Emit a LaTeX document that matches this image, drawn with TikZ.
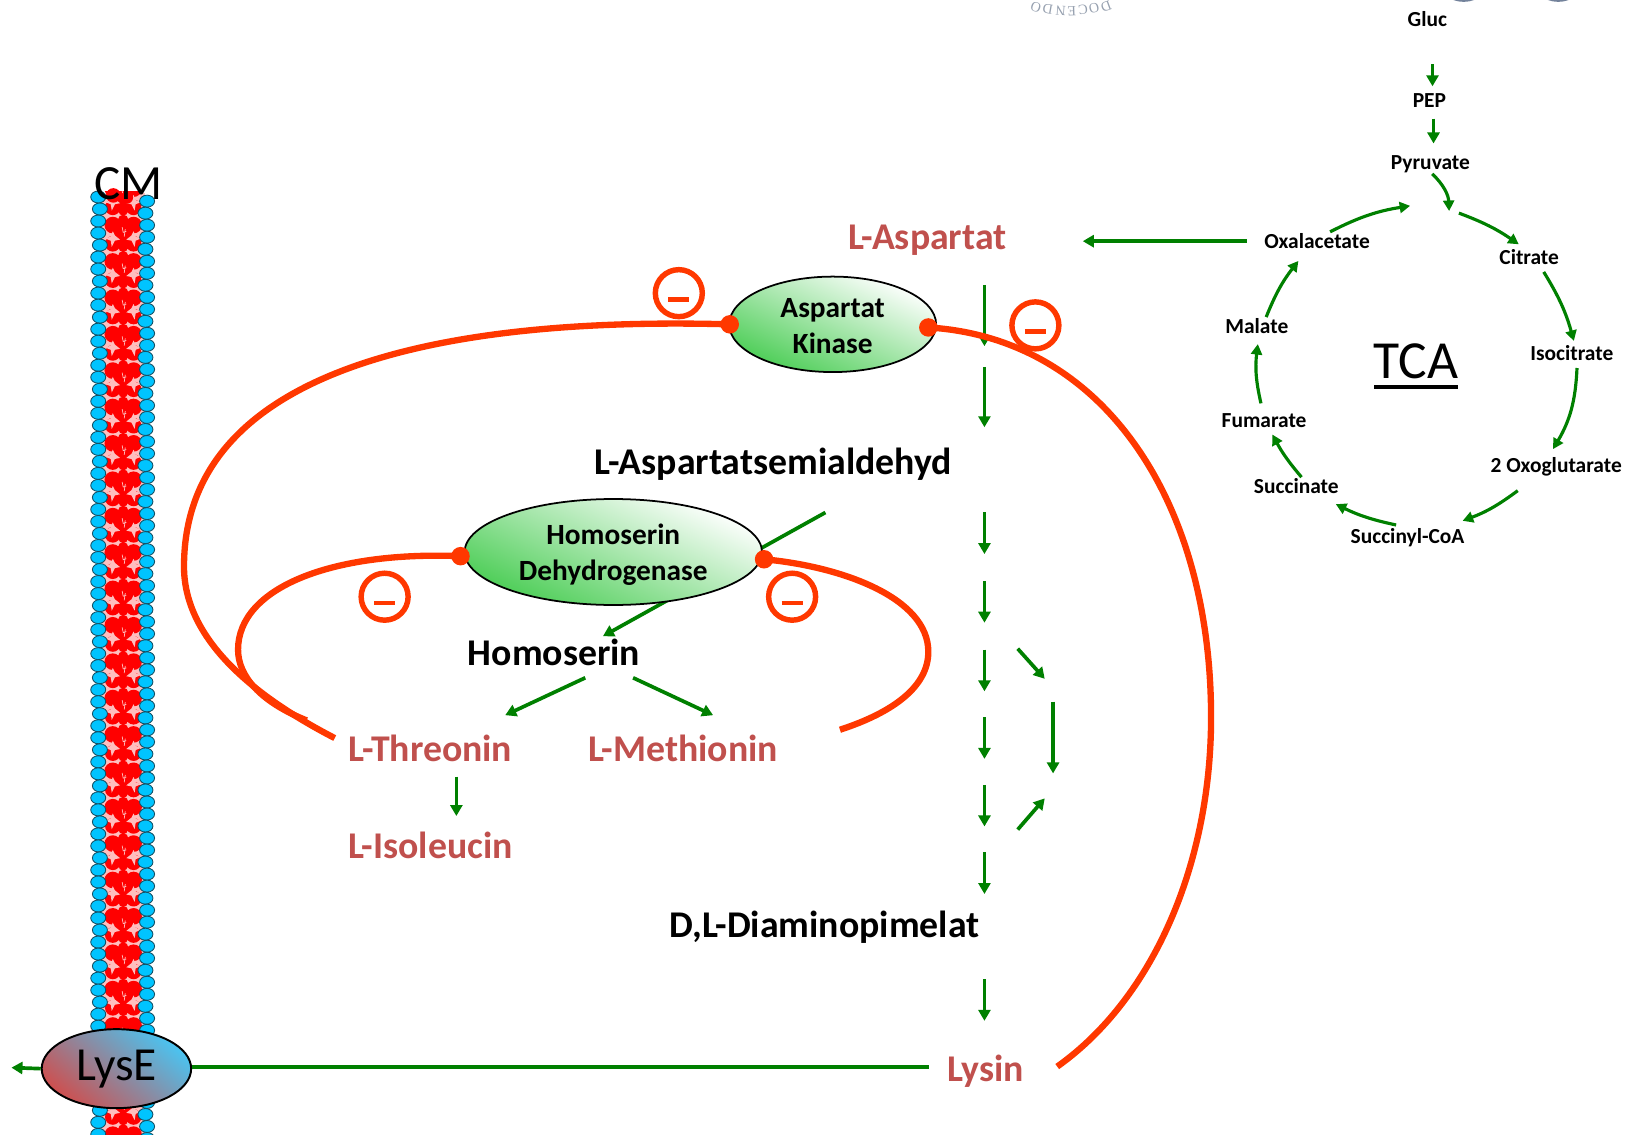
\documentclass[tikz,border=0pt]{standalone}
\usepackage{fontspec}
\setmainfont{Carlito}
\newfontfamily\sealfont{Liberation Serif}
\usetikzlibrary{arrows.meta,shapes.geometric}
\definecolor{flow}{RGB}{0,128,0}
\definecolor{inhib}{RGB}{255,56,0}
\definecolor{amino}{RGB}{192,80,77}
\definecolor{bead}{RGB}{0,196,255}
\definecolor{beadline}{RGB}{20,80,100}
\definecolor{pinkbg}{RGB}{255,190,190}
\definecolor{sealgray}{RGB}{150,160,175}
\definecolor{sealdark}{RGB}{115,130,155}
\definecolor{enz}{RGB}{75,205,85}
\definecolor{lysblue}{RGB}{75,195,240}
\definecolor{lysred}{RGB}{205,80,80}
\tikzset{
  flowarrow/.style={draw=flow,line width=2.1pt,-{Triangle[length=0.22cm,width=0.24cm]}},
  smallarrow/.style={draw=flow,line width=1.8pt,-{Triangle[length=0.21cm,width=0.22cm]}},
  inhibline/.style={draw=inhib,line width=3.6pt},
  inhibdot/.style={circle,fill=inhib,inner sep=0pt,minimum size=0.37cm},
  minusring/.style={circle,draw=inhib,line width=3.1pt,inner sep=0pt,minimum size=0.94cm},
  minusbar/.style={draw=inhib,line width=2.6pt},
  tcatext/.style={inner sep=0pt,font=\bfseries\fontsize{12.2}{14}\selectfont},
  metabolite/.style={inner sep=0pt,font=\bfseries\fontsize{21.5}{25}\selectfont},
  product/.style={metabolite,text=amino},
  enzyme/.style={ellipse,draw=black,line width=1pt,inner sep=0pt,align=center,top color=white,bottom color=enz,shading angle=-25,font=\bfseries\fontsize{16.7}{20.5}\selectfont},
  lipid/.style={ellipse,draw=beadline,line width=0.5pt,fill=bead,inner sep=0pt,minimum width=0.3cm,minimum height=0.24cm},
  sealletter/.style={inner sep=0pt,text=sealgray,font=\sealfont\fontsize{8}{9}\selectfont}
}
\newcommand{\arrowS}[3]{\coordinate (#1s) at (#2); \coordinate (#1e) at (#3); \draw[flowarrow] (#1s) -- (#1e);}
\newcommand{\arrowT}[4]{\coordinate (#1s) at (#2); \coordinate (#1e) at (#3); \draw[smallarrow] (#1s) to[bend right=#4] (#1e);}
\begin{document}
\begin{tikzpicture}[x=0.020791cm,y=-0.020791cm]
\useasboundingbox (0,0) rectangle (1568,1090.9);
% seal remnants
\node[sealletter,rotate=162] (s1) at (996.5,7) {O};
\node[sealletter,rotate=170] (s2) at (1008,9) {D};
\node[sealletter,rotate=176] (s3) at (1020.5,10.5) {N};
\node[sealletter,rotate=182] (s4) at (1031,10.5) {E};
\node[sealletter,rotate=188] (s5) at (1042,9) {C};
\node[sealletter,rotate=194] (s6) at (1052.5,7.5) {O};
\node[sealletter,rotate=200] (s7) at (1064,6) {D};
\fill[sealdark] (1398,0) .. controls (1404,2.4) and (1412,2.4) .. (1418,0) -- cycle;
\fill[sealdark] (1489,0) .. controls (1495,2.4) and (1503,2.4) .. (1509,0) -- cycle;
% membrane
\fill[pinkbg] (98,186) rectangle (139.5,1091);
\begin{scope}
\clip (98,184) rectangle (139.5,1091);
\foreach \k in {-1,...,25}{
  \pgfmathsetmacro{\yc}{224.5+35*\k}
  \begin{scope}[shift={(118.5,\yc)}]
    \fill[red] (-10,-8) circle (8) (10,-8) circle (8) (-10,10) circle (7.5) (10,10) circle (7.5) (0,1) circle (10) (0,-13) circle (5) (0,13.5) circle (4.5);
    \fill[pinkbg] (-10,-2) -- (-8,2) -- (-3,6) -- (-8,7) -- (-11,13) -- (-12,7) -- (-17,5) -- (-12,3) -- cycle;
    \fill[pinkbg] (10,-2) -- (12,3) -- (17,5) -- (12,7) -- (11,13) -- (8,7) -- (3,6) -- (8,2) -- cycle;
    \draw[pinkbg,line width=0.4pt] (-1,-6) -- (0,-1) -- (3,-2) (2,-4) -- (1,3);
  \end{scope}
}
\end{scope}
\fill[red] (109,188) circle (7) (122,190) circle (6);
\foreach \k in {0,...,78}{
  \pgfmathsetmacro{\yy}{189.5+11.56*\k}
  \pgfmathsetmacro{\ox}{ifthenelse(mod(\k,3)==1,1.6,0)}
  \pgfmathsetmacro{\oy}{ifthenelse(mod(\k,3)==1,1.6,0)}
  \node[lipid] (lb\k) at (94.5+\ox,\yy) {};
  \node[lipid] (rb\k) at (141.5-\oy,\yy+4) {};
}
\node[inner sep=0pt,font=\fontsize{28}{32}\selectfont] (cm) at (124,177) {CM};

% TCA labels
\node[tcatext] (gluc) at (1373,18) {Gluc};
\node[tcatext] (pep) at (1375,96.5) {PEP};
\node[tcatext] (pyr) at (1376,158) {Pyruvate};
\node[tcatext] (oxa) at (1267,232) {Oxalacetate};
\node[tcatext] (cit) at (1471,247) {Citrate};
\node[tcatext] (iso) at (1512,340) {Isocitrate};
\node[tcatext] (oxo) at (1497,449) {2 Oxoglutarate};
\node[tcatext] (scoa) at (1354,517) {Succinyl-CoA};
\node[tcatext] (suc) at (1247,468) {Succinate};
\node[tcatext] (fum) at (1216,405) {Fumarate};
\node[tcatext] (mal) at (1209,314) {Malate};
\node[inner sep=0pt,font=\fontsize{30.5}{34}\selectfont] (tca) at (1362,348) {TCA};
\coordinate (tcal) at (1322,372); \coordinate (tcar) at (1403,372);
\draw[black,line width=2.1pt] (tcal) -- (tcar);

\arrowS{ga}{1378,62}{1378,83}
\arrowS{gb}{1379,114}{1379,138}
\arrowT{t1}{1377.8,167.3}{1394,203}{-22}
\arrowT{t2}{1403.4,205}{1461,235}{-7}
\arrowT{t3}{1485,261.6}{1514,328}{-8}
\arrowT{t4}{1517,354}{1494,432}{-14}
\arrowT{t5}{1460,472}{1407,501}{-8}
\arrowT{t6}{1343,505}{1285,485}{-7}
\arrowT{t7}{1252,459}{1224,418}{-6}
\arrowT{t8}{1213,388}{1210,331}{-10}
\arrowT{t9}{1218,305}{1249,251}{-8}
\arrowT{t10}{1279.5,223}{1356.5,198}{-9}

% main labels
\node[product] (asp) at (892,231) {L-Aspartat};
\node[metabolite] (asa) at (744,447) {L-Aspartatsemialdehyd};
\node[metabolite] (hom) at (533,628) {Homoserin};
\node[product] (thr) at (414,720) {L-Threonin};
\node[product] (met) at (657,720) {L-Methionin};
\node[product] (ile) at (414,813) {L-Isoleucin};
\node[metabolite] (dap) at (793,892) {D,L-Diaminopimelat};
\node[product] (lys) at (948,1030) {Lysin};

\draw[flowarrow,shorten <=0.35cm,shorten >=1.52cm] (oxa.west) -- (asp.east |- oxa.west);

% main pathway
\arrowS{m1}{947,274}{947,333}
\arrowS{m2}{947,353}{947,411}
\arrowS{m3}{947,493}{947,533}
\arrowS{m4}{947,559}{947,599}
\arrowS{m5}{947,625}{947,665}
\arrowS{m6}{947,690}{947,730}
\arrowS{m7}{947,755}{947,795}
\arrowS{m8}{947,820}{947,860}
\arrowS{m9}{947,942}{947,982}
\arrowS{b1}{979,624}{1005,653}
\arrowS{b2}{1013,675}{1013,744}
\arrowS{b3}{979,798}{1005,768}
\arrowS{h0}{794,493}{580,612}
\arrowS{h1}{563,652}{486,688}
\arrowS{h2}{609,652}{686,688}
\arrowS{h3}{439,747}{439,785}

% enzymes
\node[enzyme,minimum width=4.14cm,minimum height=1.91cm] (ak) at (801,312) {\rule{0pt}{13pt}Aspartat\\Kinase};
\node[enzyme,minimum width=5.95cm,minimum height=2.12cm] (hd) at (590,531) {\rule{0pt}{14.5pt}Homoserin\\Dehydrogenase};

% transporter
\node[ellipse,draw=black,line width=1.1pt,inner sep=0pt,minimum width=2.99cm,minimum height=1.58cm,top color=lysblue,bottom color=lysred,shading angle=-40,font=\fontsize{27}{31}\selectfont] (lyse) at (112,1028) {\raisebox{-1.8pt}{LysE}};
\coordinate (lysin) at (lys.west |- 0,1026.5);
\draw[flow,line width=2.2pt,shorten >=0.35cm] (lyse.east |- lysin) -- (lysin);
\coordinate (out) at (11,1027);
\draw[flowarrow] (lyse.west) -- (out);

% inhibition
\node[inhibdot] (d1) at (702,312) {};
\node[inhibdot] (d2) at (893,315) {};
\node[inhibdot] (d3) at (443,535) {};
\node[inhibdot] (d4) at (735,538) {};
\coordinate (c1) at (322,710);
\coordinate (c2) at (1017,1026);
\coordinate (c3) at (295,693);
\coordinate (c4) at (808,702);
\draw[inhibline] (d1.center) .. controls (450,305) and (177,345) .. (177,545) .. controls (177,610) and (235,665) .. (c1);
\draw[inhibline] (d2.center) .. controls (1060,325) and (1165,480) .. (1165,690) .. controls (1165,830) and (1110,960) .. (c2);
\draw[inhibline] (d3.center) .. controls (320,530) and (229,565) .. (229,625) .. controls (229,650) and (250,675) .. (c3);
\draw[inhibline] (d4.center) .. controls (810,545) and (893,575) .. (893,627) .. controls (893,660) and (860,685) .. (c4);
\foreach \n/\x/\y in {r1/653/282,r2/996/313,r3/370/574,r4/762/574}{
  \node[minusring] (\n) at (\x,\y) {};
  \draw[minusbar] (\x-10,\y+6) -- (\x+10,\y+6);
}
\end{tikzpicture}
\end{document}
